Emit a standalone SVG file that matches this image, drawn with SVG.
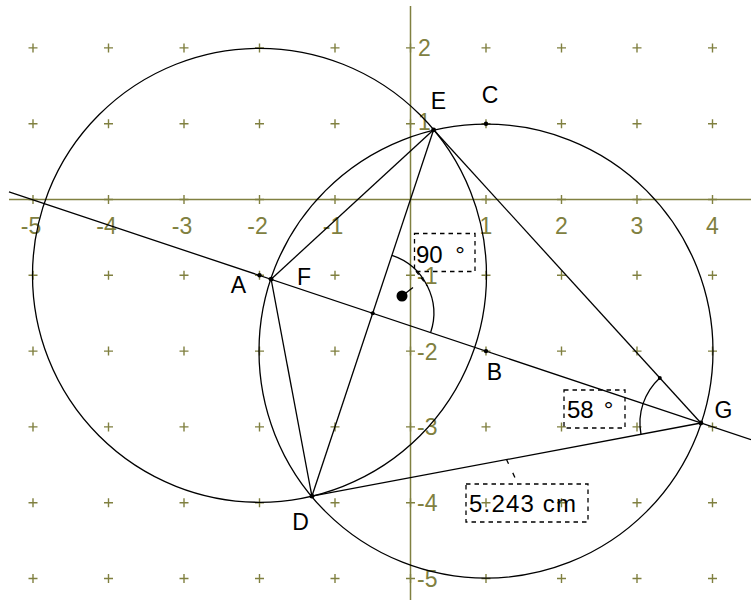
<svg xmlns="http://www.w3.org/2000/svg" xmlns:xlink="http://www.w3.org/1999/xlink" width="751" height="600" viewBox="0 0 751 600">
<defs>
<style>
.ol{stroke:#808040;stroke-width:1.5;fill:none}
.gr{stroke:#808040;stroke-width:1.4;fill:none}
.ln{stroke:#000;stroke-width:1.3;fill:none}
.dsh{stroke:#000;stroke-width:1.3;fill:none;stroke-dasharray:4.5 4}
.ax{font-family:"Liberation Sans",Arial,sans-serif;font-size:23px;fill:#808040}
.axm{font-family:"Liberation Sans",Arial,sans-serif;font-size:23px;fill:#808040;text-anchor:middle}
.lb{font-family:"Liberation Sans",Arial,sans-serif;font-size:23px;fill:#000;text-anchor:middle}
.ms{font-family:"Liberation Sans",Arial,sans-serif;font-size:24px;fill:#000}
.pt{fill:#000}
</style>
<path id="c" class="gr" d="M-4.5,0H4.5M0,-4.5V4.5"/>
</defs>
<rect width="751" height="600" fill="#fff"/>
<g id="grid">
<use xlink:href="#c" x="33" y="47.9"/><use xlink:href="#c" x="108.5" y="47.9"/><use xlink:href="#c" x="184" y="47.9"/><use xlink:href="#c" x="259.5" y="47.9"/><use xlink:href="#c" x="335" y="47.9"/><use xlink:href="#c" x="410.5" y="47.9"/><use xlink:href="#c" x="486" y="47.9"/><use xlink:href="#c" x="561.5" y="47.9"/><use xlink:href="#c" x="637" y="47.9"/><use xlink:href="#c" x="712.5" y="47.9"/>
<use xlink:href="#c" x="33" y="123.7"/><use xlink:href="#c" x="108.5" y="123.7"/><use xlink:href="#c" x="184" y="123.7"/><use xlink:href="#c" x="259.5" y="123.7"/><use xlink:href="#c" x="335" y="123.7"/><use xlink:href="#c" x="410.5" y="123.7"/><use xlink:href="#c" x="486" y="123.7"/><use xlink:href="#c" x="561.5" y="123.7"/><use xlink:href="#c" x="637" y="123.7"/><use xlink:href="#c" x="712.5" y="123.7"/>
<use xlink:href="#c" x="33" y="199.5"/><use xlink:href="#c" x="108.5" y="199.5"/><use xlink:href="#c" x="184" y="199.5"/><use xlink:href="#c" x="259.5" y="199.5"/><use xlink:href="#c" x="335" y="199.5"/><use xlink:href="#c" x="486" y="199.5"/><use xlink:href="#c" x="561.5" y="199.5"/><use xlink:href="#c" x="637" y="199.5"/><use xlink:href="#c" x="712.5" y="199.5"/>
<use xlink:href="#c" x="33" y="275.3"/><use xlink:href="#c" x="108.5" y="275.3"/><use xlink:href="#c" x="184" y="275.3"/><use xlink:href="#c" x="259.5" y="275.3"/><use xlink:href="#c" x="335" y="275.3"/><use xlink:href="#c" x="410.5" y="275.3"/><use xlink:href="#c" x="486" y="275.3"/><use xlink:href="#c" x="561.5" y="275.3"/><use xlink:href="#c" x="637" y="275.3"/><use xlink:href="#c" x="712.5" y="275.3"/>
<use xlink:href="#c" x="33" y="351.1"/><use xlink:href="#c" x="108.5" y="351.1"/><use xlink:href="#c" x="184" y="351.1"/><use xlink:href="#c" x="259.5" y="351.1"/><use xlink:href="#c" x="335" y="351.1"/><use xlink:href="#c" x="410.5" y="351.1"/><use xlink:href="#c" x="486" y="351.1"/><use xlink:href="#c" x="561.5" y="351.1"/><use xlink:href="#c" x="637" y="351.1"/><use xlink:href="#c" x="712.5" y="351.1"/>
<use xlink:href="#c" x="33" y="426.9"/><use xlink:href="#c" x="108.5" y="426.9"/><use xlink:href="#c" x="184" y="426.9"/><use xlink:href="#c" x="259.5" y="426.9"/><use xlink:href="#c" x="335" y="426.9"/><use xlink:href="#c" x="410.5" y="426.9"/><use xlink:href="#c" x="486" y="426.9"/><use xlink:href="#c" x="561.5" y="426.9"/><use xlink:href="#c" x="637" y="426.9"/><use xlink:href="#c" x="712.5" y="426.9"/>
<use xlink:href="#c" x="33" y="502.7"/><use xlink:href="#c" x="108.5" y="502.7"/><use xlink:href="#c" x="184" y="502.7"/><use xlink:href="#c" x="259.5" y="502.7"/><use xlink:href="#c" x="335" y="502.7"/><use xlink:href="#c" x="410.5" y="502.7"/><use xlink:href="#c" x="486" y="502.7"/><use xlink:href="#c" x="561.5" y="502.7"/><use xlink:href="#c" x="637" y="502.7"/><use xlink:href="#c" x="712.5" y="502.7"/>
<use xlink:href="#c" x="33" y="578.5"/><use xlink:href="#c" x="108.5" y="578.5"/><use xlink:href="#c" x="184" y="578.5"/><use xlink:href="#c" x="259.5" y="578.5"/><use xlink:href="#c" x="335" y="578.5"/><use xlink:href="#c" x="410.5" y="578.5"/><use xlink:href="#c" x="486" y="578.5"/><use xlink:href="#c" x="561.5" y="578.5"/><use xlink:href="#c" x="637" y="578.5"/><use xlink:href="#c" x="712.5" y="578.5"/>
</g>
<g id="axes">
<path class="ol" d="M9,199.5H751M410.5,6V600"/>
<text class="axm" x="31" y="234">-5</text>
<text class="axm" x="106.5" y="234">-4</text>
<text class="axm" x="182" y="234">-3</text>
<text class="axm" x="257.5" y="234">-2</text>
<text class="axm" x="333" y="234">-1</text>
<text class="axm" x="486" y="234">1</text>
<text class="axm" x="561.5" y="234">2</text>
<text class="axm" x="637" y="234">3</text>
<text class="axm" x="712.5" y="234">4</text>
<text class="ax" x="418" y="56">2</text>
<text class="ax" x="418" y="130">1</text>
<text class="ax" x="417" y="284">-1</text>
<text class="ax" x="417" y="360">-2</text>
<text class="ax" x="417" y="435">-3</text>
<text class="ax" x="417" y="511">-4</text>
<text class="ax" x="417" y="587">-5</text>
</g>
<g id="connectors">
<circle id="circleA" class="ln" cx="259.5" cy="275.3" r="227"/>
<circle id="circleB" class="ln" cx="486" cy="351.1" r="227"/>
<path id="lineAB" class="ln" d="M9,191.8L751,439.6"/>
<path id="EF" class="ln" d="M433.6,129.8L271.1,279.2"/>
<path id="FD" class="ln" d="M271.1,279.2L311.9,496.2"/>
<path id="ED" class="ln" d="M433.6,129.8L311.9,496.2"/>
<path id="EG" class="ln" d="M433.6,129.8L700.9,423"/>
<path id="DG" class="ln" d="M311.9,496.2L700.9,423"/>
<path id="arc90" class="ln" d="M392,255.3A61,61 0 0,1 430.6,332.6"/>
<path id="arc58" class="ln" d="M659.8,377.9A61,61 0 0,0 641,434.3"/>
<path class="dsh" d="M416,271L427.3,285.9"/>
<path class="ln" d="M402,296L413,287.5"/>
<path class="ln" d="M506.4,459.3L518,484" stroke-dasharray="5 10"/>
</g>
<g id="pointA"><circle class="pt" cx="259.5" cy="275.3" r="2.2"/><text class="lb" x="238.5" y="293">A</text></g>
<g id="pointB"><circle class="pt" cx="486" cy="351.1" r="2.2"/><text class="lb" x="494.5" y="380">B</text></g>
<g id="pointC"><circle class="pt" cx="486" cy="123.7" r="2.2"/><text class="lb" x="490" y="103">C</text></g>
<g id="pointD"><circle class="pt" cx="311.9" cy="496.2" r="2.4"/><text class="lb" x="300.5" y="530">D</text></g>
<g id="pointE"><circle class="pt" cx="433.6" cy="129.8" r="2.4"/><text class="lb" x="438.5" y="109">E</text></g>
<g id="pointF"><circle class="pt" cx="271.1" cy="279.2" r="2.4"/><text class="lb" x="304" y="285">F</text></g>
<g id="pointG"><circle class="pt" cx="700.9" cy="423" r="2.4"/><text class="lb" x="723.5" y="418">G</text></g>
<g id="pointM"><circle class="pt" cx="372.75" cy="313.2" r="2"/></g>
<g id="pointP"><circle class="pt" cx="659.8" cy="377.9" r="2"/></g>
<g id="dot"><circle class="pt" cx="402" cy="296" r="5.5"/></g>
<g id="label90">
<rect class="dsh" x="414.5" y="233.5" width="60.5" height="38"/>
<text class="ms" x="416" y="263">90<tspan dx="6"> °</tspan></text>
</g>
<g id="label58">
<rect class="dsh" x="564" y="390" width="61" height="38"/>
<text class="ms" x="567" y="417.5">58<tspan dx="3.5"> °</tspan></text>
</g>
<g id="label5243">
<rect class="dsh" x="466" y="484" width="122" height="38"/>
<text class="ms" x="469" y="512" textLength="107" lengthAdjust="spacing">5.243 cm</text>
</g>
</svg>
